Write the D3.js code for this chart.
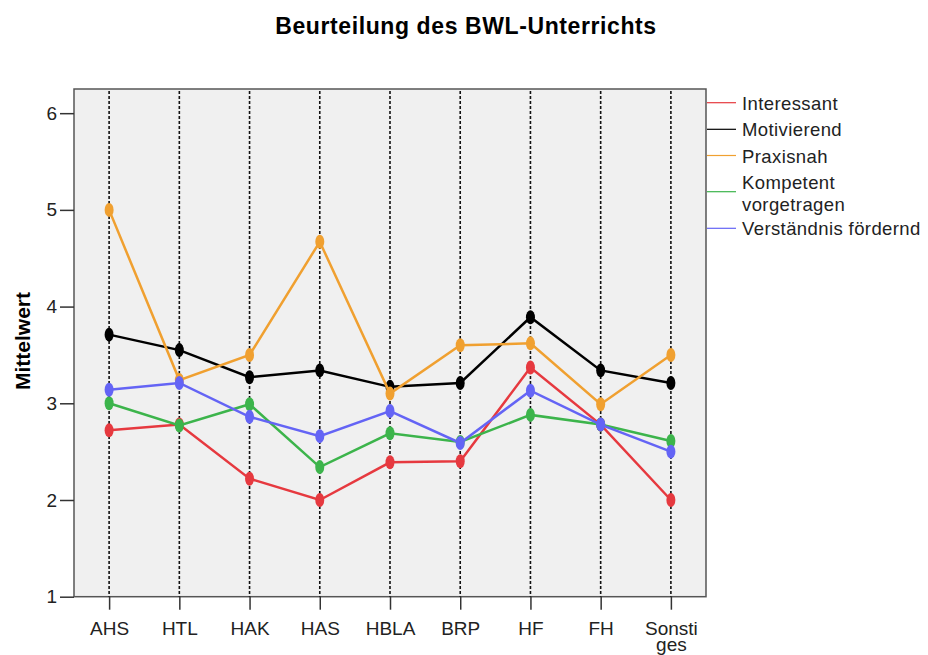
<!DOCTYPE html>
<meta charset="utf-8">
<style>
body { margin: 0; background: #fff; font-family: "Liberation Sans", Arial, sans-serif; }
.series { fill: none; stroke-width: 2.5px; }
.guide { stroke: #111; stroke-width: 1.6; stroke-dasharray: 3,2; }
</style>
<script src="https://cdn.jsdelivr.net/npm/d3@7"></script>
<div id="chart"></div>
<script>
// categories and series (mean values)
var schools = ["AHS", "HTL", "HAK", "HAS", "HBLA", "BRP", "HF", "FH", "Sonstiges"];
var interessant = [2.72, 2.78, 2.22, 2.00, 2.39, 2.40, 3.37, 2.78, 2.00];
var motivierend = [3.71, 3.55, 3.27, 3.34, 3.17, 3.21, 3.89, 3.34, 3.21];
var praxisnah   = [5.00, 3.24, 3.50, 4.67, 3.10, 3.60, 3.62, 2.99, 3.50];
var kompetent   = [3.00, 2.77, 2.99, 2.34, 2.69, 2.60, 2.88, 2.78, 2.61];
var verstaendnis= [3.14, 3.21, 2.86, 2.66, 2.92, 2.59, 3.13, 2.78, 2.50];
var yTicks = [1, 2, 3, 4, 5, 6];

var series = [
  {name: ["Interessant"], values: interessant, color: "#e6393f"},
  {name: ["Motivierend"], values: motivierend, color: "#000000"},
  {name: ["Praxisnah"], values: praxisnah, color: "#f0a030"},
  {name: ["Kompetent", "vorgetragen"], values: kompetent, color: "#3cb44b"},
  {name: ["Verständnis fördernd"], values: verstaendnis, color: "#6464f5"}
];

var W = 928, H = 655;
var plotL = 74, plotR = 706, plotT = 89, plotB = 596.7;
var font = "Liberation Sans, Arial, sans-serif";

var svg = d3.select("#chart").append("svg")
  .attr("width", W).attr("height", H);

var x = d3.scalePoint().domain(schools).range([plotL, plotR]).padding(0.5);
var y = d3.scaleLinear().domain([1, 6.25]).range([plotB, plotT]);

// plot background
svg.append("rect")
  .attr("x", plotL).attr("y", plotT)
  .attr("width", plotR - plotL).attr("height", plotB - plotT)
  .attr("fill", "#f0f0f0").attr("stroke", "#555").attr("stroke-width", 1.5);

// dotted guides at each category
svg.append("g").selectAll("line")
  .data(schools).enter().append("line")
  .attr("class", "guide")
  .attr("x1", function(d) { return x(d); })
  .attr("x2", function(d) { return x(d); })
  .attr("y1", plotT + 2).attr("y2", plotB);

// axes
var yAxis = svg.append("g")
  .attr("transform", "translate(" + plotL + ",0)")
  .call(d3.axisLeft(y).tickValues(yTicks).tickSize(14).tickPadding(3).tickFormat(d3.format("d")));
yAxis.select(".domain").remove();
yAxis.selectAll("line").attr("stroke", "#333").attr("stroke-width", 1.5);
yAxis.selectAll("text").attr("font-size", 19).attr("fill", "#222")
  .attr("font-family", font);

var xAxis = svg.append("g")
  .attr("transform", "translate(0," + plotB + ")")
  .call(d3.axisBottom(x).tickSize(13).tickPadding(9).tickFormat(""));
xAxis.select(".domain").remove();
xAxis.selectAll("line").attr("stroke", "#333").attr("stroke-width", 1.5);

var labels = xAxis.selectAll(".tick").append("text")
  .attr("fill", "#222").attr("font-size", 19)
  .attr("font-family", font)
  .attr("text-anchor", "middle");
labels.each(function(d) {
  var lines = d === "Sonstiges" ? ["Sonsti", "ges"] : [d];
  d3.select(this).selectAll("tspan").data(lines).enter().append("tspan")
    .attr("x", 0).attr("y", function(t, i) { return 38 + i * 16; })
    .text(function(t) { return t; });
});

// lines and markers
var line = d3.line()
  .x(function(d, i) { return x(schools[i]); })
  .y(function(d) { return y(d); });

series.forEach(function(s) {
  svg.append("path")
    .attr("class", "series")
    .attr("stroke", s.color)
    .attr("d", line(s.values));
  svg.append("g").selectAll("ellipse")
    .data(s.values).enter().append("ellipse")
    .attr("cx", function(d, i) { return x(schools[i]); })
    .attr("cy", function(d) { return y(d); })
    .attr("rx", 4.5).attr("ry", 7)
    .attr("fill", s.color);
});

// title and axis label
svg.append("text")
  .attr("x", 466).attr("y", 34)
  .attr("text-anchor", "middle")
  .attr("font-size", 23).attr("font-weight", "bold")
  .attr("letter-spacing", 0.6)
  .text("Beurteilung des BWL-Unterrichts");

svg.append("text")
  .attr("transform", "translate(30,341) rotate(-90)")
  .attr("text-anchor", "middle")
  .attr("font-size", 21).attr("font-weight", "bold")
  .text("Mittelwert");

// legend
var legendY = [102.7, 129.3, 155.5, 191.7, 228.3];
var legend = svg.append("g");
series.forEach(function(s, i) {
  var ly = legendY[i];
  legend.append("line")
    .attr("x1", plotR + 1).attr("x2", 736)
    .attr("y1", ly).attr("y2", ly)
    .attr("stroke", s.color).attr("stroke-width", 1.2);
  var t = legend.append("text")
    .attr("font-size", 18.5).attr("fill", "#222")
    .attr("letter-spacing", 0.4);
  var offset = s.name.length > 1 ? -10 : 0;
  s.name.forEach(function(n, j) {
    t.append("tspan").attr("x", 742).attr("y", ly + 7 + offset + j * 22).text(n);
  });
});
</script>
